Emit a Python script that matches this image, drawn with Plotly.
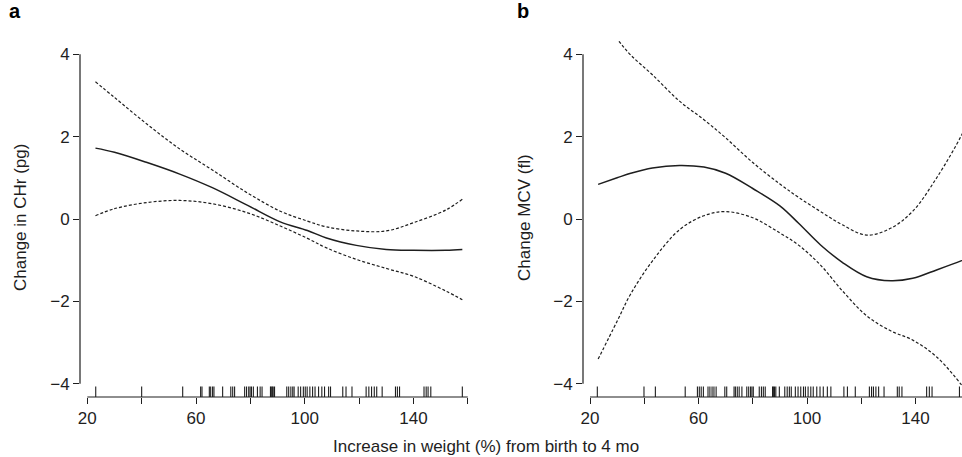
import plotly.graph_objects as go

# ---------------- data ----------------
# Panel a: change in CHr (pg)
a_x = [23, 30, 42, 54, 66, 79, 91, 101, 108, 119, 130, 140, 152, 158]
a_fit = [1.72, 1.62, 1.37, 1.09, 0.76, 0.33, -0.07, -0.28, -0.46, -0.64, -0.74, -0.76, -0.76, -0.74]
a_upper = [3.33, 2.95, 2.30, 1.70, 1.19, 0.63, 0.19, -0.05, -0.19, -0.29, -0.29, -0.09, 0.22, 0.48]
a_lower = [0.08, 0.25, 0.40, 0.45, 0.37, 0.15, -0.17, -0.47, -0.70, -0.98, -1.20, -1.39, -1.75, -1.96]

# Panel b: change MCV (fl)
b_x = [23, 30, 35, 43, 53, 62, 70, 80, 90, 97, 105, 113, 122, 131, 139, 148, 157, 160]
b_fit = [0.84, 1.00, 1.11, 1.24, 1.30, 1.26, 1.11, 0.74, 0.32, -0.11, -0.63, -1.05, -1.40, -1.50, -1.44, -1.23, -1.01, -0.93]
b_upper = [5.00, 4.37, 3.98, 3.50, 2.86, 2.41, 1.97, 1.37, 0.85, 0.52, 0.18, -0.14, -0.39, -0.22, 0.19, 1.02, 2.04, 2.50]
b_lower = [-3.40, -2.48, -1.82, -1.02, -0.26, 0.08, 0.18, 0.03, -0.34, -0.64, -1.12, -1.74, -2.35, -2.72, -2.94, -3.36, -4.03, -4.30]

# rug (observed weight increases)
a_rug = [23.1, 40.0, 55.1, 61.7, 62.2, 64.9, 65.4, 66.1, 66.6, 69.8, 72.8, 73.5, 74.2,
         77.9, 78.6, 79.4, 79.9, 80.4, 81.1, 82.6, 83.6, 84.3, 87.4, 87.7, 88.1, 88.4, 88.9,
         93.4, 94.1, 94.9, 95.6, 96.1, 97.6, 98.5, 99.5, 100.2, 100.9, 101.9, 102.9, 103.8,
         105.1, 106.3, 107.3, 108.8, 109.5, 114.0, 115.2, 117.4, 122.6, 123.6, 124.6, 125.6,
         126.5, 128.5, 133.4, 134.1, 134.9, 143.9, 144.7, 145.4, 146.4, 158.0]
b_rug = [22.7, 39.9, 44.1, 55.1, 59.6, 60.3, 61.0, 61.8, 63.5, 64.2, 65.0, 65.7, 66.5,
         69.7, 70.4, 73.1, 73.6, 74.3, 75.0, 76.0, 77.8, 78.5, 79.2, 79.7, 80.2, 82.4,
         83.2, 83.9, 84.6, 87.3, 87.6, 88.0, 88.5, 89.8, 91.8, 92.7, 93.5, 94.2, 95.7,
         96.7, 97.7, 98.7, 99.4, 100.4, 101.4, 102.3, 103.6, 104.8, 106.0, 107.5, 108.8,
         113.6, 114.9, 117.8, 123.0, 123.8, 124.5, 125.4, 126.4, 128.4, 133.3, 134.0,
         135.0, 144.1, 145.1, 146.1, 156.2]

x_ticks = [20, 40, 60, 80, 100, 120, 140, 160]
x_ticktext = ["20", "", "60", "", "100", "", "140", ""]
y_ticks = [-4, -2, 0, 2, 4]
y_ticktext = ["\u22124", "\u22122", "0", "2", "4"]

# ---------------- layout constants ----------------
W, H = 962, 457
INK = "#1e1e1e"
FONT = "Liberation Sans, Arial, sans-serif"
YR = [-4.32, 4.32]
AX_A = [17.31, 163.4]
AX_B = [17.42, 157.14]
PLOT_TOP, PLOT_BOT = 41, 397
RUG_PX = 10.5
px_per_unit_y = (PLOT_BOT - PLOT_TOP) / (YR[1] - YR[0])
rug_y = YR[0] + (RUG_PX / 2) / px_per_unit_y
TICK_FS = 17
TITLE_FS = 17

fig = go.Figure()

def add_panel(xs, fit, up, lo, rug, xa, ya):
    for vals, dash, w in [(up, "3px,2px", 1.2), (lo, "3px,2px", 1.2), (fit, "solid", 1.5)]:
        fig.add_trace(go.Scatter(x=xs, y=vals, mode="lines", xaxis=xa, yaxis=ya,
                                 line=dict(color=INK, width=w, dash=dash, shape="spline", smoothing=1.0),
                                 showlegend=False, hoverinfo="skip"))
    fig.add_trace(go.Scatter(x=rug, y=[rug_y] * len(rug), mode="markers", xaxis=xa, yaxis=ya,
                             marker=dict(symbol="line-ns", size=RUG_PX / 1.4,
                                         line=dict(color=INK, width=1.1)),
                             cliponaxis=False, showlegend=False, hoverinfo="skip"))

add_panel(a_x, a_fit, a_upper, a_lower, a_rug, "x", "y")
add_panel(b_x, b_fit, b_upper, b_lower, b_rug, "x2", "y2")

ydom = [(H - PLOT_BOT) / H, (H - PLOT_TOP) / H]
common_x = dict(tickmode="array", tickvals=x_ticks, ticktext=x_ticktext, ticks="outside",
                ticklen=6, tickwidth=1, tickcolor=INK, showgrid=False, zeroline=False,
                showline=False, automargin=False,
                tickfont=dict(family=FONT, size=TICK_FS, color=INK))
common_y = dict(range=YR, tickmode="array", tickvals=y_ticks, ticktext=y_ticktext,
                ticks="outside", ticklen=6, tickwidth=1, tickcolor=INK, showgrid=False,
                zeroline=False, showline=False, automargin=False,
                tickfont=dict(family=FONT, size=TICK_FS, color=INK))

fig.update_layout(
    width=W, height=H,
    margin=dict(l=0, r=0, t=0, b=0),
    paper_bgcolor="white", plot_bgcolor="white",
    xaxis=dict(domain=[80 / W, 477 / W], range=AX_A, anchor="y", **common_x),
    yaxis=dict(domain=ydom, anchor="x", **common_y),
    xaxis2=dict(domain=[583 / W, 1.0], range=AX_B, anchor="y2", **common_x),
    yaxis2=dict(domain=ydom, anchor="x2", **common_y),
)

# R-style axis lines spanning only the tick range
for xa, ya in [("x", "y"), ("x2", "y2")]:
    fig.add_shape(type="line", xref=f"{xa} domain", x0=0, x1=0, yref=ya,
                  y0=y_ticks[0], y1=y_ticks[-1], line=dict(color=INK, width=1.2))
    fig.add_shape(type="line", xref=xa, x0=x_ticks[0], x1=x_ticks[-1], yref=f"{ya} domain",
                  y0=0, y1=0, line=dict(color=INK, width=1.2))

for txt, xp in [("<b>a</b>", 15), ("<b>b</b>", 523)]:
    fig.add_annotation(text=txt, xref="paper", yref="paper", x=xp / W, y=1 - 11 / H,
                       xanchor="center", yanchor="middle", showarrow=False,
                       font=dict(family=FONT, size=20, color="#000"))

fig.add_annotation(text="Change in CHr (pg)", xref="paper", yref="paper", x=20 / W,
                   y=(H - 218) / H, textangle=-90, showarrow=False, xanchor="center",
                   yanchor="middle", font=dict(family=FONT, size=TITLE_FS, color=INK))
fig.add_annotation(text="Change MCV (fl)", xref="paper", yref="paper", x=524 / W,
                   y=(H - 218) / H, textangle=-90, showarrow=False, xanchor="center",
                   yanchor="middle", font=dict(family=FONT, size=TITLE_FS, color=INK))
fig.add_annotation(text="Increase in weight (%) from birth to 4 mo", xref="paper",
                   yref="paper", x=486 / W, y=(H - 446) / H, showarrow=False,
                   xanchor="center", yanchor="middle",
                   font=dict(family=FONT, size=TITLE_FS, color=INK))

fig.write_html("out.html", config={"displayModeBar": False, "staticPlot": True},
               post_script="document.body.style.margin='0';document.body.style.overflow='hidden';")
